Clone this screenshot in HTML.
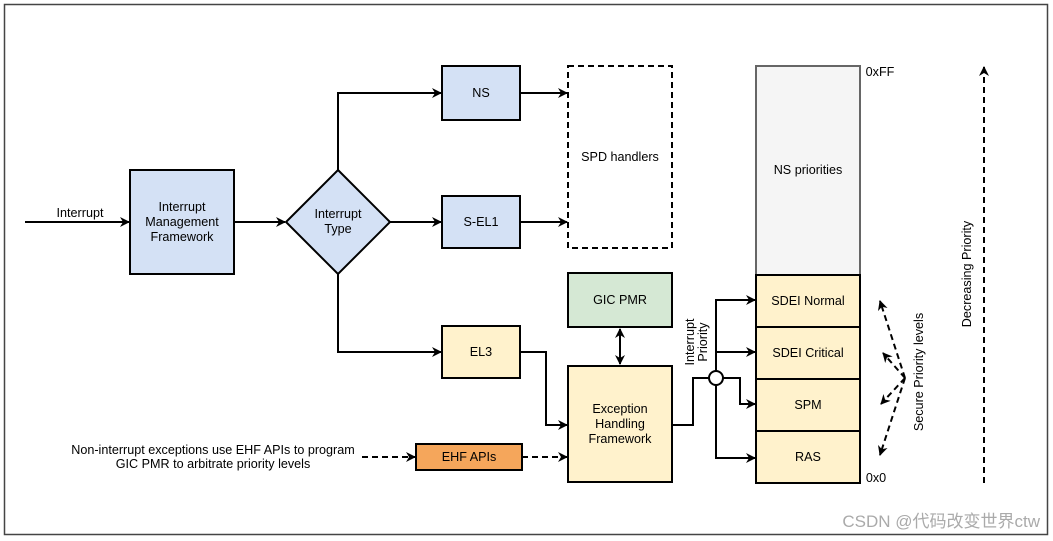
<!DOCTYPE html>
<html><head><meta charset="utf-8"><style>
body{margin:0;background:#fff}
svg{display:block;font-family:"Liberation Sans","Noto Sans CJK SC",sans-serif}
</style></head><body>
<svg width="1053" height="541" viewBox="0 0 1053 541">
<defs>
<marker id="a" markerWidth="10" markerHeight="10" refX="9" refY="5" orient="auto" markerUnits="userSpaceOnUse"><path d="M0,0 L10,5 L0,10 L3,5 z" fill="#000"/></marker>
<marker id="s" markerWidth="10" markerHeight="10" refX="1" refY="5" orient="auto" markerUnits="userSpaceOnUse"><path d="M10,0 L0,5 L10,10 L7,5 z" fill="#000"/></marker>
</defs>
<rect x="4.5" y="4.5" width="1043" height="530" fill="#fff" stroke="#444" stroke-width="1.5"/>
<g stroke="#000" stroke-width="2" fill="none">
<line x1="25" y1="222" x2="129" y2="222" marker-end="url(#a)"/>
<line x1="234" y1="222" x2="285" y2="222" marker-end="url(#a)"/>
<polyline points="338,170 338,93 441,93" marker-end="url(#a)"/>
<line x1="390" y1="222" x2="441" y2="222" marker-end="url(#a)"/>
<polyline points="338,274 338,352 441,352" marker-end="url(#a)"/>
<line x1="520" y1="93" x2="567" y2="93" marker-end="url(#a)"/>
<line x1="520" y1="222" x2="567" y2="222" marker-end="url(#a)"/>
<polyline points="520,352 546,352 546,425 567,425" marker-end="url(#a)"/>
<line x1="620" y1="329" x2="620" y2="364" marker-end="url(#a)" marker-start="url(#s)"/>
<line x1="362" y1="457" x2="415" y2="457" stroke-dasharray="6,4" marker-end="url(#a)"/>
<line x1="522" y1="457" x2="567" y2="457" stroke-dasharray="6,4" marker-end="url(#a)"/>
<polyline points="672,425 693,425 693,378 709,378"/>
<polyline points="716,371 716,300 755,300" marker-end="url(#a)"/>
<line x1="716" y1="352" x2="755" y2="352" marker-end="url(#a)"/>
<polyline points="723,378 740,378 740,404 755,404" marker-end="url(#a)"/>
<polyline points="716,385 716,458 755,458" marker-end="url(#a)"/>
<g stroke-dasharray="6,4">
<line x1="905" y1="378" x2="880" y2="301" marker-end="url(#a)"/>
<line x1="905" y1="378" x2="883" y2="353" marker-end="url(#a)"/>
<line x1="905" y1="378" x2="881" y2="404" marker-end="url(#a)"/>
<line x1="905" y1="378" x2="880" y2="455" marker-end="url(#a)"/>
<line x1="984" y1="483" x2="984" y2="67" marker-end="url(#a)"/>
</g>
</g>
<g stroke="#000" stroke-width="2">
<rect x="130" y="170" width="104" height="104" fill="#d4e1f5"/>
<polygon points="338,170 390,222 338,274 286,222" fill="#d4e1f5"/>
<rect x="442" y="66" width="78" height="54" fill="#d4e1f5"/>
<rect x="442" y="196" width="78" height="52" fill="#d4e1f5"/>
<rect x="442" y="326" width="78" height="52" fill="#fff2cc"/>
<rect x="568" y="66" width="104" height="182" fill="#fff" stroke-dasharray="6,4"/>
<rect x="568" y="273" width="104" height="54" fill="#d5e8d4"/>
<rect x="568" y="366" width="104" height="116" fill="#fff2cc"/>
<rect x="416" y="444" width="106" height="26" fill="#f5a65b"/>
<rect x="756" y="66" width="104" height="209" fill="#f5f5f5" stroke="#666"/>
<rect x="756" y="275" width="104" height="52" fill="#fff2cc"/>
<rect x="756" y="327" width="104" height="52" fill="#fff2cc"/>
<rect x="756" y="379" width="104" height="52" fill="#fff2cc"/>
<rect x="756" y="431" width="104" height="52" fill="#fff2cc"/>
<circle cx="716" cy="378" r="7" fill="#fff"/>
</g>
<g font-size="12.6" fill="#000" text-anchor="middle">
<text x="80" y="217">Interrupt</text>
<text x="182" y="211">Interrupt</text><text x="182" y="226">Management</text><text x="182" y="241">Framework</text>
<text x="338" y="218">Interrupt</text><text x="338" y="233">Type</text>
<text x="481" y="97">NS</text>
<text x="481" y="226">S-EL1</text>
<text x="481" y="356">EL3</text>
<text x="620" y="161">SPD handlers</text>
<text x="620" y="304">GIC PMR</text>
<text x="620" y="413">Exception</text><text x="620" y="428">Handling</text><text x="620" y="443">Framework</text>
<text x="469" y="461">EHF APIs</text>
<text x="213" y="454">Non-interrupt exceptions use EHF APIs to program</text>
<text x="213" y="468">GIC PMR to arbitrate priority levels</text>
<text x="808" y="174">NS priorities</text>
<text x="808" y="305">SDEI Normal</text>
<text x="808" y="357">SDEI Critical</text>
<text x="808" y="409">SPM</text>
<text x="808" y="461">RAS</text>
<text x="880" y="76">0xFF</text>
<text x="876" y="482">0x0</text>
<text transform="translate(694,342) rotate(-90)">Interrupt</text>
<text transform="translate(707,342) rotate(-90)">Priority</text>
<text transform="translate(923,372) rotate(-90)">Secure Priority levels</text>
<text transform="translate(971,274) rotate(-90)">Decreasing Priority</text>
</g>
<text x="1040" y="527" text-anchor="end" font-size="17" fill="#aaa">CSDN @代码改变世界ctw</text>
</svg>
</body></html>
